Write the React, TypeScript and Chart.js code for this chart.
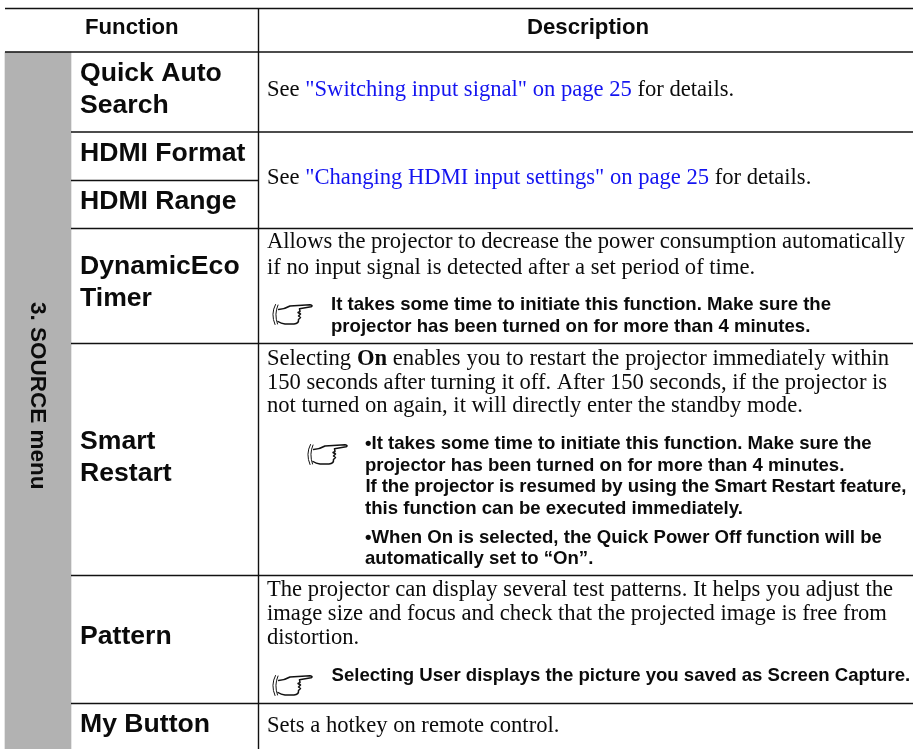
import React, { useEffect, useRef } from "react";
import { Chart, registerables } from "chart.js";

Chart.register(...registerables);

const W = 918;
const H = 749;

// Table structure, in table units (the scales run 1:1 over the page)
const tableLeft = 5;
const tableRight = 913;
const sideRight = 71;
const dividerX = 258.5;
const fullRules = [8.5, 52];
const contentRules = [132, 228.5, 343.5, 575.5, 703.5];
const partialRules = [180.5];
const sideSpan: [number, number] = [52, 749];
const handMarks = [
  { x: 272, y: 304 },
  { x: 307, y: 444 },
  { x: 272, y: 675 },
];

const headerLabels = [
  { x: 85, y: 33.5, t: "Function" },
  { x: 527, y: 33.5, t: "Description" },
];

const sideLabel = { x: 31, y: 302, t: "3. SOURCE menu" };

const functionLabels = [
  { y: 81, t: "Quick Auto" },
  { y: 113, t: "Search" },
  { y: 161, t: "HDMI Format" },
  { y: 209, t: "HDMI Range" },
  { y: 274, t: "DynamicEco" },
  { y: 306, t: "Timer" },
  { y: 448.5, t: "Smart" },
  { y: 480.5, t: "Restart" },
  { y: 643.5, t: "Pattern" },
  { y: 732, t: "My Button" },
];

type Run = [string, "n" | "b" | "l"];
const bodyLines: { y: number; end?: number; runs: Run[] }[] = [
  { y: 96, runs: [["See ", "n"], ['"Switching input signal" on page 25', "l"], [" for details.", "n"]] },
  { y: 183.5, runs: [["See ", "n"], ['"Changing HDMI input settings" on page 25', "l"], [" for details.", "n"]] },
  { y: 247.5, end: 905, runs: [["Allows the projector to decrease the power consumption automatically", "n"]] },
  { y: 273.5, runs: [["if no input signal is detected after a set period of time.", "n"]] },
  { y: 364.5, end: 889, runs: [["Selecting ", "n"], ["On", "b"], [" enables you to restart the projector immediately within", "n"]] },
  { y: 388.5, end: 889, runs: [["150 seconds after turning it off. After 150 seconds, if the projector is", "n"]] },
  { y: 412, runs: [["not turned on again, it will directly enter the standby mode.", "n"]] },
  { y: 596, end: 893, runs: [["The projector can display several test patterns. It helps you adjust the", "n"]] },
  { y: 619.5, end: 888, runs: [["image size and focus and check that the projected image is free from", "n"]] },
  { y: 643.5, runs: [["distortion.", "n"]] },
  { y: 732, runs: [["Sets a hotkey on remote control.", "n"]] },
];

const noteLines: { x: number; y: number; t: string; track?: number }[] = [
  { x: 331, y: 310, t: "It takes some time to initiate this function. Make sure the" },
  { x: 331, y: 331.5, t: "projector has been turned on for more than 4 minutes." },
  { x: 365, y: 449, t: "•It takes some time to initiate this function. Make sure the" },
  { x: 365, y: 470.5, t: "projector has been turned on for more than 4 minutes." },
  { x: 365.5, y: 491.5, t: "If the projector is resumed by using the Smart Restart feature,", track: -0.11 },
  { x: 365, y: 513.5, t: "this function can be executed immediately." },
  { x: 365, y: 542.5, t: "•When On is selected, the Quick Power Off function will be" },
  { x: 365, y: 563.5, t: "automatically set to “On”." },
  { x: 331.5, y: 681, t: "Selecting User displays the picture you saved as Screen Capture." },
];

const INK = "#0b0b0b";
const SANS = '"Liberation Sans", Arial, sans-serif';
const SERIF = '"Liberation Serif", "Times New Roman", serif';
const BODY_SIZE = 22.6;

function drawHand(ctx: CanvasRenderingContext2D, px: number, py: number) {
  ctx.save();
  ctx.translate(px, py);
  ctx.strokeStyle = "#111";
  ctx.lineJoin = "round";
  ctx.lineCap = "round";
  ctx.lineWidth = 1;
  // cuff
  ctx.beginPath();
  ctx.moveTo(3.5, 0.5);
  ctx.quadraticCurveTo(-1.5, 10, 3, 20.5);
  ctx.moveTo(6, 1);
  ctx.quadraticCurveTo(2, 10, 5.5, 20);
  ctx.stroke();
  // hand outline
  ctx.lineWidth = 1.5;
  ctx.beginPath();
  ctx.moveTo(6.5, 5.5);
  ctx.quadraticCurveTo(13, 5, 18, 2);
  ctx.lineTo(38, 0.8);
  ctx.quadraticCurveTo(41.5, 1.6, 39, 2.8);
  ctx.lineTo(27.5, 4.8);
  ctx.lineTo(28, 7.5);
  ctx.lineTo(26, 8.5);
  ctx.lineTo(28.5, 10);
  ctx.lineTo(26.5, 12);
  ctx.lineTo(28.5, 13.5);
  ctx.lineTo(26.5, 15.5);
  ctx.quadraticCurveTo(27, 19.5, 22, 20);
  ctx.lineTo(13, 20);
  ctx.quadraticCurveTo(9, 19.5, 6, 17.5);
  ctx.stroke();
  ctx.restore();
}

const tablePlugin = {
  id: "tableText",
  afterDatasetsDraw(chart: any) {
    const { ctx, scales } = chart;
    const X = (v: number) => scales.x.getPixelForValue(v);
    const Y = (v: number) => scales.y.getPixelForValue(v);
    ctx.save();
    ctx.textBaseline = "alphabetic";
    ctx.textAlign = "left";
    ctx.fillStyle = INK;

    ctx.font = `bold 22.2px ${SANS}`;
    headerLabels.forEach((l) => ctx.fillText(l.t, X(l.x), Y(l.y)));

    ctx.font = `bold 26.6px ${SANS}`;
    functionLabels.forEach((l) => ctx.fillText(l.t, X(80), Y(l.y)));

    ctx.font = `bold 18.6px ${SANS}`;
    noteLines.forEach((l) => {
      (ctx as any).letterSpacing = `${l.track ?? 0}px`;
      ctx.fillText(l.t, X(l.x), Y(l.y));
    });
    (ctx as any).letterSpacing = "0px";

    const fontFor = (k: string) => `${k === "b" ? "bold " : ""}${BODY_SIZE}px ${SERIF}`;
    bodyLines.forEach((line) => {
      let extra = 0;
      if (line.end) {
        let width = 0;
        let gaps = 0;
        line.runs.forEach(([t, k]) => {
          ctx.font = fontFor(k);
          width += ctx.measureText(t).width;
          gaps += (t.match(/ /g) || []).length;
        });
        extra = (line.end - 267 - width) / gaps;
      }
      (ctx as any).wordSpacing = `${extra}px`;
      let cx = X(267);
      line.runs.forEach(([t, k]) => {
        ctx.font = fontFor(k);
        ctx.fillStyle = k === "l" ? "#1414f0" : INK;
        ctx.fillText(t, cx, Y(line.y));
        cx += ctx.measureText(t).width;
      });
    });
    (ctx as any).wordSpacing = "0px";

    ctx.fillStyle = INK;
    ctx.save();
    ctx.translate(X(sideLabel.x), Y(sideLabel.y));
    ctx.rotate(Math.PI / 2);
    ctx.font = `bold 22.5px ${SANS}`;
    ctx.fillText(sideLabel.t, 0, 0);
    ctx.restore();

    handMarks.forEach((h) => drawHand(ctx, X(h.x), Y(h.y)));
    ctx.restore();
  },
};

const rule = (x0: number, x1: number, y0: number, y1: number) => ({
  type: "line" as const,
  data: [
    { x: x0, y: y0 },
    { x: x1, y: y1 },
  ],
  borderColor: "#111",
  borderWidth: 1.4,
  pointRadius: 0,
  order: 0,
});

export default function App() {
  const ref = useRef<HTMLCanvasElement>(null);
  useEffect(() => {
    document.body.style.margin = "0";
    const chart = new Chart(ref.current!, {
      data: {
        datasets: [
          ...fullRules.map((y) => rule(tableLeft, tableRight, y, y)),
          ...contentRules.map((y) => rule(sideRight, tableRight, y, y)),
          ...partialRules.map((y) => rule(sideRight, dividerX, y, y)),
          rule(dividerX, dividerX, fullRules[0], H),
          {
            type: "bar" as const,
            data: [{ x: (tableLeft + sideRight) / 2, y: sideSpan }],
            backgroundColor: "#b2b2b2",
            barThickness: sideRight - tableLeft,
            borderWidth: 0,
            order: 1,
          },
        ] as any,
      },
      options: {
        animation: false,
        responsive: false,
        layout: { padding: 0 },
        plugins: { legend: { display: false }, tooltip: { enabled: false } },
        events: [],
        scales: {
          x: { type: "linear", min: 0, max: W, display: false, offset: false },
          y: { type: "linear", min: 0, max: H, reverse: true, display: false },
        },
      },
      plugins: [tablePlugin],
    });
    return () => chart.destroy();
  }, []);
  return (
    <div style={{ width: W, height: H, background: "#fff" }}>
      <canvas ref={ref} width={W} height={H} style={{ display: "block", width: W, height: H }} />
    </div>
  );
}
